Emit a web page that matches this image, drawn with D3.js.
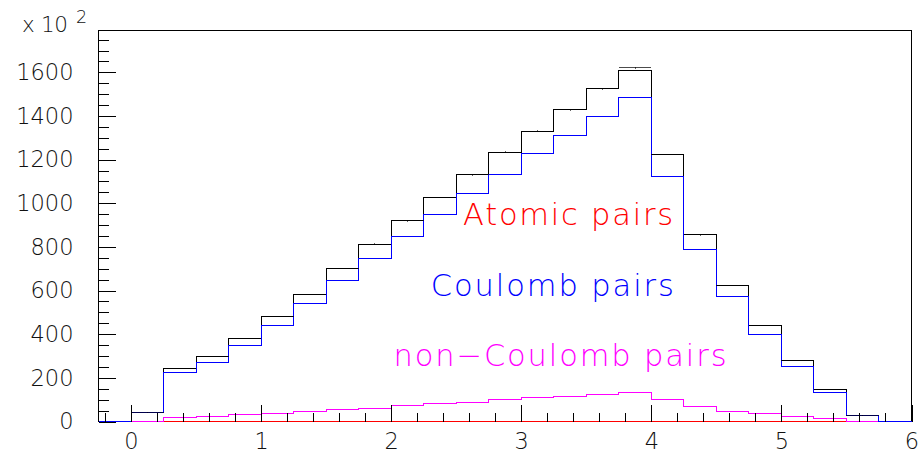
<!DOCTYPE html>
<html>
<head>
<meta charset="utf-8">
<script src="https://cdn.jsdelivr.net/npm/d3@7"></script>
<style>
  html, body { margin: 0; padding: 0; background: #ffffff; }
  svg { display: block; }
  text { font-family: "DejaVu Sans", "Liberation Sans", sans-serif; font-weight: 200; }
</style>
</head>
<body>
<svg id="chart" width="922" height="455"></svg>
<script>
// Histogram binning (lower bin edges, common width)
const binLowEdges = [-0.25, 0, 0.25, 0.5, 0.75, 1, 1.25, 1.5, 1.75, 2, 2.25, 2.5, 2.75,
                     3, 3.25, 3.5, 3.75, 4, 4.25, 4.5, 4.75, 5, 5.25, 5.5, 5.75];
const binWidth = 0.25;

// Bin contents, in units of 10^2
const totalPairs      = [0, 41, 242, 296, 381, 479, 584, 701, 813, 919, 1026, 1130, 1235,
                         1331, 1428, 1525, 1607, 1223, 855, 624, 441, 278, 148, 27, 0];
const measuredPairs   = [0, 41, 242, 296, 381, 479, 584, 701, 813, 919, 1026, 1130, 1235,
                         1331, 1428, 1525, 1621, 1223, 855, 624, 441, 278, 148, 27, 0];
const coulombPairs    = [0, 40, 223, 271, 349, 441, 541, 645, 749, 849, 947, 1043, 1131,
                         1226, 1313, 1398, 1485, 1123, 787, 573, 401, 253, 131, 26, 0];
const nonCoulombPairs = [0, 0, 17, 21, 31, 38, 44, 53, 61, 75, 82, 88, 99,
                         108, 116, 124, 134, 100, 70, 47, 37, 24, 12, 2, 0];
const atomicPairs     = [0, 0, 0, 0, 0, 0, 0, 0, 0, 0, 0, 0, 0,
                         0, 0, 0, 0, 0, 0, 0, 0, 0, 0, 0, 0];

// Axis ticks
const yTickValues = [0, 200, 400, 600, 800, 1000, 1200, 1400, 1600];
const yMinorTickValues = [0, 50, 100, 150, 200, 250, 300, 350, 400, 450, 500, 550, 600, 650, 700, 750,
                          800, 850, 900, 950, 1000, 1050, 1100, 1150, 1200, 1250, 1300, 1350, 1400,
                          1450, 1500, 1550, 1600, 1650, 1700, 1750];
const xTickValues = [0, 1, 2, 3, 4, 5, 6];
const xMinorTickValues = [-0.2, 0, 0.2, 0.4, 0.6, 0.8, 1, 1.2, 1.4, 1.6, 1.8, 2, 2.2, 2.4, 2.6, 2.8,
                          3, 3.2, 3.4, 3.6, 3.8, 4, 4.2, 4.4, 4.6, 4.8, 5, 5.2, 5.4, 5.6, 5.8, 6];

// Annotation texts
const labelTexts  = ["Atomic pairs", "Coulomb pairs", "non\u2212Coulomb pairs"];
const labelSeries = ["atomic", "coulomb", "nonCoulomb"];

const xDomain = [-0.25, 6];
const yDomain = [0, 1792];

const colors = {
  total: "#000000",
  atomic: "#ff0000",
  coulomb: "#0000ff",
  nonCoulomb: "#ff00ff"
};

const frame = { left: 98.5, right: 911.5, top: 30.5, bottom: 421.5 };

const svg = d3.select("#chart");

const x = d3.scaleLinear().domain(xDomain).range([frame.left, frame.right]);
const y = d3.scaleLinear().domain(yDomain).range([frame.bottom, frame.top]);

// Frame
svg.append("rect")
  .attr("x", frame.left).attr("y", frame.top)
  .attr("width", frame.right - frame.left).attr("height", frame.bottom - frame.top)
  .attr("fill", "none").attr("stroke", "#000").attr("stroke-width", 1);

// Step outline of a histogram
function stepPoints(values) {
  const pts = [[x(binLowEdges[0]), y(0)]];
  values.forEach((v, i) => {
    pts.push([x(binLowEdges[i]), y(v)]);
    pts.push([x(binLowEdges[i] + binWidth), y(v)]);
  });
  pts.push([x(binLowEdges[binLowEdges.length - 1] + binWidth), y(0)]);
  return pts;
}

const line = d3.line();
const plot = svg.append("g");

function drawHist(values, color) {
  plot.append("path")
    .attr("d", line(stepPoints(values)))
    .attr("fill", "none")
    .attr("stroke", color)
    .attr("stroke-width", 1)
    .attr("shape-rendering", "crispEdges");
}

drawHist(totalPairs, colors.total);
drawHist(atomicPairs, colors.atomic);
drawHist(nonCoulombPairs, colors.nonCoulomb);
drawHist(coulombPairs, colors.coulomb);

// Measured contents with Poisson error bars (counts are stored in units of 10^2)
const meas = plot.append("g").attr("stroke", "#000").attr("stroke-width", 1)
  .attr("shape-rendering", "crispEdges");
measuredPairs.forEach((v, i) => {
  if (v <= 0) return;
  const err = Math.sqrt(v * 100) / 100;
  const xc = binLowEdges[i] + binWidth / 2;
  meas.append("line")
    .attr("x1", x(binLowEdges[i])).attr("x2", x(binLowEdges[i] + binWidth))
    .attr("y1", y(v)).attr("y2", y(v))
    .attr("stroke-opacity", 0.7);
  meas.append("line")
    .attr("x1", x(xc)).attr("x2", x(xc))
    .attr("y1", y(v - err)).attr("y2", y(v + err))
    .attr("stroke-opacity", 0.6);
});

// Axes (ticks point into the frame)
function styleAxis(g) {
  g.select(".domain").remove();
  g.selectAll("line").attr("stroke", "#000").attr("shape-rendering", "crispEdges");
  g.selectAll("text")
    .attr("fill", "#111")
    .style("font-family", "\"DejaVu Sans\", \"Liberation Sans\", sans-serif")
    .style("font-weight", 200)
    .style("font-size", "22.5px");
}

svg.append("g")
  .attr("transform", `translate(${frame.left},0)`)
  .call(d3.axisLeft(y).tickValues(yMinorTickValues).tickSize(-10).tickFormat(""))
  .call(styleAxis);

svg.append("g")
  .attr("transform", `translate(${frame.left},0)`)
  .call(d3.axisLeft(y).tickValues(yTickValues).tickSize(-17).tickPadding(25).tickFormat(d3.format("d")))
  .call(styleAxis);

svg.append("g")
  .attr("transform", `translate(0,${frame.bottom})`)
  .call(d3.axisBottom(x).tickValues(xMinorTickValues).tickSize(-8.5).tickFormat(""))
  .call(styleAxis);

svg.append("g")
  .attr("transform", `translate(0,${frame.bottom})`)
  .call(d3.axisBottom(x).tickValues(xTickValues).tickSize(-17).tickPadding(12).tickFormat(d3.format("d")))
  .call(styleAxis);

// Y axis multiplier
const mult = svg.append("g").attr("fill", "#111");
mult.append("text")
  .attr("x", 22).attr("y", 32)
  .attr("textLength", 46).attr("lengthAdjust", "spacing")
  .style("font-size", "21.5px")
  .text("x 10");
mult.append("text")
  .attr("x", 76).attr("y", 23)
  .style("font-size", "17.5px")
  .text("2");

// Series annotations, placed in data coordinates
const labelAnchors = {
  atomic:     { x0: 2.553, y0: 900, len: 210 },
  coulomb:    { x0: 2.305, y0: 576, len: 243 },
  nonCoulomb: { x0: 2.018, y0: 256, len: 333 }
};
labelTexts.forEach((t, i) => {
  const key = labelSeries[i];
  const a = labelAnchors[key];
  svg.append("text")
    .attr("x", x(a.x0)).attr("y", y(a.y0))
    .attr("fill", colors[key])
    .attr("textLength", a.len).attr("lengthAdjust", "spacing")
    .style("font-size", "30.5px")
    .text(t);
});
</script>
</body>
</html>
